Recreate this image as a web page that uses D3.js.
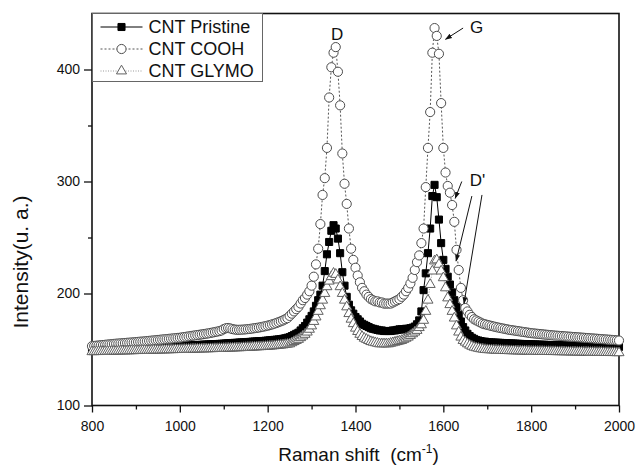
<!DOCTYPE html>
<html>
<head>
<meta charset="utf-8">
<script src="https://cdn.jsdelivr.net/npm/d3@7/dist/d3.min.js"></script>
<style>
body { margin: 0; background: #fff; }
text { font-family: "Liberation Sans", Arial, Helvetica, sans-serif; fill: #111; }
</style>
</head>
<body>
<div id="chart"></div>
<script>
// Raman shift grid (cm-1): one reading every 5 cm-1 from 800 to 2000
var shift = d3.range(800, 2001, 5);

// intensities, rows of 10 (row start in comment)
var pristine = [
  150.5,150.6,150.6,150.7,150.8,150.8,150.9,151.0,151.0,151.1, // 800
  151.2,151.2,151.3,151.4,151.4,151.5,151.6,151.6,151.7,151.8, // 850
  151.8,151.9,152.0,152.0,152.1,152.2,152.2,152.3,152.4,152.4, // 900
  152.5,152.6,152.6,152.7,152.8,152.8,152.9,153.0,153.0,153.1, // 950
  153.2,153.3,153.4,153.5,153.6,153.7,153.8,153.9,154.0,154.1, // 1000
  154.2,154.3,154.4,154.5,154.6,154.7,154.8,154.9,155.0,155.1, // 1050
  155.2,155.4,155.5,155.6,155.8,155.9,156.0,156.2,156.3,156.4, // 1100
  156.6,156.7,156.8,157.0,157.1,157.2,157.4,157.5,157.6,157.8, // 1150
  158.0,158.2,158.4,158.6,158.8,159.0,159.3,159.6,160.0,160.5, // 1200
  161,162,163,164,165,167,169,171,174,177,                     // 1250
  180,184,189,194,199,207,220,235,246,256,                     // 1300
  261,258,249,236,219,207,197,190,185,182,                     // 1350
  179,177,175,173,172,171,170,169,168.5,168,                   // 1400
  167.5,167,167,166.5,166.5,166.5,166.5,167,167,167.5,         // 1450
  168,168,168,168.5,168.5,169,169.5,170.5,172.5,176,           // 1500
  184,203,218,236,258,287,297,286,266,245,                     // 1550
  230,222,215,208,201,194,188,181,175,170,                     // 1600
  167,164,162,160.5,159.5,158.5,158,157.5,157,157,             // 1650
  156.5,156.4,156.3,156.2,156.1,156.0,155.9,155.8,155.7,155.6, // 1700
  155.5,155.4,155.3,155.2,155.1,155.0,154.9,154.9,154.8,154.7, // 1750
  154.6,154.5,154.5,154.4,154.3,154.2,154.2,154.1,154.0,154.0, // 1800
  153.9,153.8,153.8,153.7,153.7,153.6,153.5,153.5,153.4,153.4, // 1850
  153.3,153.3,153.2,153.2,153.1,153.1,153.0,153.0,152.9,152.9, // 1900
  152.8,152.8,152.7,152.7,152.6,152.6,152.5,152.5,152.4,152.4, // 1950
  152.3                                                        // 2000
];

var cooh = [
  153.0,153.2,153.4,153.6,153.8,154.0,154.2,154.4,154.6,154.8, // 800
  155.0,155.2,155.3,155.5,155.6,155.8,156.0,156.1,156.3,156.4, // 850
  156.6,156.8,157.0,157.1,157.3,157.5,157.7,157.9,158.1,158.3, // 900
  158.5,158.7,158.9,159.1,159.3,159.5,159.7,159.9,160.1,160.3, // 950
  160.5,160.8,161.1,161.4,161.7,162.0,162.3,162.6,162.9,163.2, // 1000
  163.5,163.8,164.1,164.4,164.8,165.2,165.6,166.0,166.4,167.0, // 1050
  168.2,169.0,169.2,168.8,168.2,167.8,167.6,167.6,167.7,167.8, // 1100
  168.0,168.2,168.4,168.7,169.0,169.3,169.6,170.0,170.4,170.8, // 1150
  171.3,171.8,172.4,173.0,173.7,174.4,175.2,176.0,177.0,178.0, // 1200
  180,182,184,186,188,191,194,196,199,202,                     // 1250
  207,215,226,240,262,288,303,330,375,402,                     // 1300
  415,420,398,368,325,298,280,258,240,230,                     // 1350
  223,216,210,205,202,199,197,195,194,193,                     // 1400
  193,192,192,191,191,191,191,192,193,194,                     // 1450
  195,197,199,202,205,209,214,221,228,234,                     // 1500
  245,258,295,330,362,415,437,430,414,370,                     // 1550
  330,308,296,290,279,264,239,221,205,194,                     // 1600
  187,184,181,179,177,176,175,174,173,172.5,                   // 1650
  172.0,171.5,171.0,170.5,170.0,169.6,169.2,168.8,168.4,168.0, // 1700
  167.6,167.3,167.0,166.7,166.4,166.1,165.8,165.5,165.2,164.9, // 1750
  164.6,164.4,164.2,164.0,163.8,163.6,163.4,163.2,163.0,162.8, // 1800
  162.6,162.4,162.3,162.1,162.0,161.8,161.7,161.5,161.4,161.2, // 1850
  161.1,160.9,160.8,160.6,160.5,160.3,160.2,160.0,159.9,159.7, // 1900
  159.6,159.4,159.3,159.1,159.0,158.8,158.7,158.5,158.4,158.2, // 1950
  158.0                                                        // 2000
];

var glymo = [
  148.0,148.0,148.1,148.1,148.2,148.2,148.3,148.3,148.4,148.4, // 800
  148.5,148.5,148.6,148.6,148.7,148.7,148.8,148.8,148.9,148.9, // 850
  149.0,149.0,149.1,149.1,149.2,149.2,149.3,149.3,149.4,149.4, // 900
  149.5,149.5,149.6,149.6,149.7,149.7,149.8,149.8,149.9,149.9, // 950
  150.0,150.0,150.1,150.1,150.2,150.2,150.3,150.3,150.4,150.4, // 1000
  150.5,150.5,150.6,150.6,150.7,150.7,150.8,150.8,150.9,150.9, // 1050
  151.0,151.1,151.2,151.2,151.3,151.4,151.5,151.5,151.6,151.7, // 1100
  151.8,151.9,152.0,152.1,152.2,152.3,152.4,152.5,152.6,152.7, // 1150
  152.8,153.0,153.1,153.3,153.5,153.7,153.9,154.1,154.4,154.7, // 1200
  155,156,157,158,159,160.5,162,163.5,165.5,168,               // 1250
  171,175,179,184,189,194,200,206,211,215,                     // 1300
  218,217,212,206,200,194,188,182,177,173,                     // 1350
  169,166,163.5,161.5,160,159,158,157,156.5,156,               // 1400
  155.5,155,155,155,155,155,155.5,156,156.5,157,               // 1450
  157.5,158,159,160,161,162.5,164,165.5,167,169.5,             // 1500
  172,176,184,194,208,220,229,230,226,220,                     // 1550
  214,205,196,190,184,178,171,165.5,161,158,                   // 1600
  156.5,155,153.8,152.8,152,151.5,151,150.6,150.3,150,         // 1650
  149.8,149.7,149.6,149.5,149.4,149.3,149.2,149.1,149.0,149.0, // 1700
  148.9,148.9,148.8,148.8,148.7,148.7,148.6,148.6,148.5,148.5, // 1750
  148.4,148.4,148.4,148.3,148.3,148.3,148.2,148.2,148.2,148.1, // 1800
  148.1,148.1,148.0,148.0,148.0,147.9,147.9,147.9,147.8,147.8, // 1850
  147.8,147.7,147.7,147.7,147.6,147.6,147.6,147.5,147.5,147.5, // 1900
  147.4,147.4,147.4,147.3,147.3,147.3,147.2,147.2,147.2,147.1, // 1950
  147.1                                                        // 2000
];

var seriesNames = ["CNT Pristine", "CNT COOH", "CNT GLYMO"];
var xTicks = [800, 1000, 1200, 1400, 1600, 1800, 2000];
var xMinor = [900, 1100, 1300, 1500, 1700, 1900];
var yTicks = [100, 200, 300, 400];
var yMinor = [150, 250, 350];

// peak labels and arrows, in data units (shift, intensity)
var peakLabels = [
  {text: "D",  x: 1358, y: 426, anchor: "middle"},
  {text: "G",  x: 1676, y: 433, anchor: "middle"},
  {text: "D'", x: 1660, y: 296, anchor: "start"}
];
var peakArrows = [
  {x1: 1645, y1: 437, x2: 1605, y2: 427},
  {x1: 1642, y1: 300, x2: 1627, y2: 285},
  {x1: 1665, y1: 287, x2: 1629, y2: 229},
  {x1: 1688, y1: 288, x2: 1647, y2: 191}
];

var margin = {top: 13.5, right: 17, bottom: 62.5, left: 92},
    width = 636 - margin.left - margin.right,
    height = 468 - margin.top - margin.bottom;

var root = d3.select("#chart")
  .append("svg")
  .attr("width", 636)
  .attr("height", 468);

root.append("defs").append("marker")
  .attr("id", "head")
  .attr("viewBox", "0 0 10 10")
  .attr("refX", 9).attr("refY", 5)
  .attr("markerWidth", 7).attr("markerHeight", 7)
  .attr("orient", "auto")
  .append("path")
  .attr("d", "M0,1.5L10,5L0,8.5z")
  .attr("fill", "#111");

var svg = root.append("g")
  .attr("transform", "translate(" + margin.left + "," + margin.top + ")");

var x = d3.scaleLinear().domain([800, 2000]).range([0, width]);
var y = d3.scaleLinear().domain([100, 450]).range([height, 0]);

// axes (no thousands separator on the labels)
svg.append("g")
  .attr("transform", "translate(0," + height + ")")
  .call(d3.axisBottom(x).tickValues(xTicks).tickFormat(d3.format("d"))
    .tickSize(7).tickPadding(9).tickSizeOuter(0));
svg.append("g")
  .attr("transform", "translate(0," + height + ")")
  .call(d3.axisBottom(x).tickValues(xMinor).tickSize(4).tickFormat(""));
svg.append("g")
  .call(d3.axisLeft(y).tickValues(yTicks).tickFormat(d3.format("d"))
    .tickSize(8).tickPadding(4).tickSizeOuter(0));
svg.append("g")
  .call(d3.axisLeft(y).tickValues(yMinor).tickSize(4).tickFormat(""));

svg.selectAll(".domain").remove();
svg.selectAll(".tick line").attr("stroke", "#111").attr("stroke-width", 1.3);
svg.selectAll(".tick text").style("font-size", "14px").attr("fill", "#111");

svg.append("rect")
  .attr("width", width)
  .attr("height", height)
  .attr("fill", "none")
  .attr("stroke", "#111")
  .attr("stroke-width", 1.6);

// series styles
var styles = [
  {values: pristine, symbol: d3.symbolSquare,   size: 50, fill: "#000", stroke: "#000", line: "#000", dash: null, lw: 1},
  {values: cooh,     symbol: d3.symbolCircle,   size: 66, fill: "#fff", stroke: "#4d4d4d", line: "#555", dash: "2,2", lw: 1},
  {values: glymo,    symbol: d3.symbolTriangle, size: 44, fill: "#fff", stroke: "#606060", line: "#999", dash: "1,1.5", lw: 1}
];

var line = d3.line()
  .x(function(d) { return x(d[0]); })
  .y(function(d) { return y(d[1]); });

styles.forEach(function(s, k) {
  var pts = shift.map(function(v, i) { return [v, s.values[i]]; });
  var grp = svg.append("g").attr("class", "series s" + k);
  grp.append("path")
    .datum(pts)
    .attr("d", line)
    .attr("fill", "none")
    .attr("stroke", s.line)
    .attr("stroke-width", s.lw)
    .attr("stroke-dasharray", s.dash);
  grp.selectAll("path.pt")
    .data(pts)
    .enter().append("path")
    .attr("class", "pt")
    .attr("transform", function(d) { return "translate(" + x(d[0]) + "," + y(d[1]) + ")"; })
    .attr("d", d3.symbol().type(s.symbol).size(s.size))
    .attr("fill", s.fill)
    .attr("stroke", s.stroke)
    .attr("stroke-width", 1);
});

// peak annotations
svg.selectAll(".peak-arrow")
  .data(peakArrows)
  .enter().append("line")
  .attr("class", "peak-arrow")
  .attr("x1", function(d) { return x(d.x1); })
  .attr("y1", function(d) { return y(d.y1); })
  .attr("x2", function(d) { return x(d.x2); })
  .attr("y2", function(d) { return y(d.y2); })
  .attr("stroke", "#111")
  .attr("stroke-width", 1)
  .attr("marker-end", "url(#head)");

svg.selectAll(".peak-label")
  .data(peakLabels)
  .enter().append("text")
  .attr("class", "peak-label")
  .attr("x", function(d) { return x(d.x); })
  .attr("y", function(d) { return y(d.y); })
  .attr("text-anchor", function(d) { return d.anchor; })
  .style("font-size", "17px")
  .text(function(d) { return d.text; });

// legend
var legend = svg.append("g").attr("transform", "translate(0.5,0)");
legend.append("rect")
  .attr("width", 170)
  .attr("height", 68)
  .attr("fill", "#fff")
  .attr("stroke", "#666")
  .attr("stroke-width", 1);

var rows = legend.selectAll(".row")
  .data(styles)
  .enter().append("g")
  .attr("class", "row")
  .attr("transform", function(d, i) { return "translate(0," + (13.5 + i * 22) + ")"; });
rows.append("line")
  .attr("x1", 8).attr("x2", 50)
  .attr("stroke", function(d) { return d.line; })
  .attr("stroke-dasharray", function(d) { return d.dash; });
rows.append("path")
  .attr("transform", "translate(29,0)")
  .attr("d", function(d) { return d3.symbol().type(d.symbol).size(d.size)(); })
  .attr("fill", function(d) { return d.fill; })
  .attr("stroke", function(d) { return d.stroke; });
rows.append("text")
  .attr("x", 56)
  .attr("dy", "0.36em")
  .style("font-size", "18px")
  .text(function(d, i) { return seriesNames[i]; });

// axis titles
var xt = root.append("text")
  .attr("x", margin.left + width / 2 + 3)
  .attr("y", 461)
  .attr("text-anchor", "middle")
  .style("font-size", "19px");
xt.append("tspan").text("Raman shift\u00a0\u00a0(cm");
xt.append("tspan").attr("dy", -8).style("font-size", "12px").text("-1");
xt.append("tspan").attr("dy", 8).text(")");

root.append("text")
  .attr("transform", "translate(28,262) rotate(-90)")
  .attr("text-anchor", "middle")
  .style("font-size", "21px")
  .text("Intensity(u. a.)");
</script>
</body>
</html>
